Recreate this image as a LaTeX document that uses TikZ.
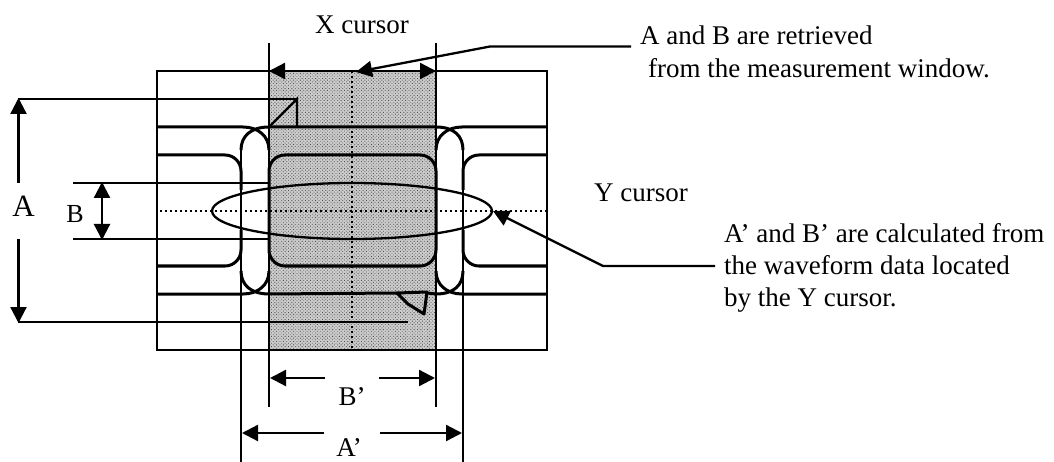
\documentclass[tikz,border=0pt]{standalone}
\usepackage{fontspec}
\setmainfont{Liberation Serif}
\usetikzlibrary{arrows.meta,patterns.meta}
\tikzset{
  thin line/.style={line width=2.3pt,black},
  thick line/.style={line width=3pt,black},
  dotted line/.style={line width=2pt,black,dash pattern=on 2pt off 3pt},
  dimone/.style={line width=2.3pt,black,-{Triangle[length=16pt,width=16pt]}},
  dimboth/.style={line width=2.3pt,black,{Triangle[length=16pt,width=16pt]}-{Triangle[length=16pt,width=16pt]}},
  lbl/.style={anchor=base west,inner sep=0pt,font=\fontsize{27}{30}\selectfont},
  lblc/.style={anchor=base,inner sep=0pt,font=\fontsize{27}{30}\selectfont},
}
\begin{document}
\begin{tikzpicture}[x=1pt,y=-1pt]
\useasboundingbox (0,0) rectangle (1054,462);
% shaded X cursor band
\fill[black!20] (269,71) rectangle (436,350);
\fill[pattern={Dots[distance=2.4pt,radius=0.6pt,angle=45]},pattern color=black!70] (269,71) rectangle (436,350);
% frame
\draw[thin line] (157,71) rectangle (547,350);
% dotted axes
\draw[dotted line] (160,211) -- (547,211);
\draw[dotted line] (352,71) -- (352,350);
% cursors
\draw[thin line] (269,43) -- (269,407);
\draw[thin line] (436,43) -- (436,407);
\draw[thin line] (241,150) -- (241,462);
\draw[thin line] (463,150) -- (463,462);
% waveform, top
\draw[thick line] (157,127) -- (243,127) .. controls (258,127) and (269,136) .. (269,150);
\draw[thick line] (241,150) .. controls (241,136) and (251,127) .. (269,127) -- (297,127);
\draw[thin line,line join=miter] (269,127) -- (297,99) -- (297,127);
\draw[thick line] (297,127) -- (436,127) .. controls (454,127) and (463,136) .. (463,150);
\draw[thick line] (436,150) .. controls (436,136) and (447,127) .. (462,127) -- (547,127);
\draw[thick line,rounded corners=16pt] (157,155) -- (241,155) -- (241,190);
\draw[thick line,rounded corners=16pt] (547,155) -- (463,155) -- (463,190);
\draw[thick line,rounded corners=16pt] (157,266) -- (241,266) -- (241,230);
\draw[thick line,rounded corners=16pt] (547,266) -- (463,266) -- (463,230);
\draw[thick line,rounded corners=16pt] (269,155) rectangle (436,266);
% waveform, bottom
\draw[thick line] (157,294) -- (243,294) .. controls (258,294) and (269,285) .. (269,271);
\draw[thick line] (241,271) .. controls (241,285) and (251,294) .. (269,294) -- (397,293);
\draw[thick line,line join=round] (397,293) -- (427,292) -- (424,314) -- (408,304) -- cycle;
\draw[thick line] (427,293) -- (436,294) .. controls (454,294) and (463,285) .. (463,271);
\draw[thick line] (436,271) .. controls (436,285) and (447,294) .. (462,294) -- (547,294);
% A and B reference lines
\coordinate (atop) at (18.5,98);
\coordinate (abot) at (18.5,323);
\coordinate (agap1) at (18.5,183);
\coordinate (agap2) at (18.5,239);
\coordinate (btop) at (102,182);
\coordinate (bbot) at (102,240);
\draw[thin line] (17.5,99) -- (297,99);
\draw[thin line] (17.5,322) -- (408,322);
\draw[thin line] (73,183) -- (269,183);
\draw[thin line] (73,239) -- (269,239);
\draw[dimone] (agap1) -- (atop);
\draw[dimone] (agap2) -- (abot);
\draw[dimboth] (btop) -- (bbot);
% Y cursor ellipse
\draw[thin line] (352,211) ellipse [x radius=140,y radius=28];
% X cursor arrows
\coordinate (xl) at (269,71);
\coordinate (xr) at (436,71);
\draw[dimboth] (xl) -- (xr);
% B' and A' dimensions
\coordinate (bl) at (270,378);
\coordinate (bli) at (325,378);
\coordinate (bri) at (379,378);
\coordinate (br) at (435,378);
\coordinate (al) at (242,433);
\coordinate (ali) at (324,433);
\coordinate (ari) at (380,433);
\coordinate (ar) at (462,433);
\draw[dimone] (bli) -- (bl);
\draw[dimone] (bri) -- (br);
\draw[dimone] (ali) -- (al);
\draw[dimone] (ari) -- (ar);
% leaders
\coordinate (lead1a) at (631,46.5);
\coordinate (lead1b) at (490,46.5);
\coordinate (lead1c) at (356,72);
\coordinate (lead2a) at (715,266);
\coordinate (lead2b) at (603,266);
\coordinate (lead2c) at (493,211);
\draw[dimone] (lead1a) -- (lead1b) -- (lead1c);
\draw[dimone] (lead2a) -- (lead2b) -- (lead2c);
% labels
\node[lbl] (xcursor) at (315,34) {X cursor};
\node[lbl] (ycursor) at (594,202) {Y cursor};
\node[lbl] (ab1) at (640,45) {A and B are retrieved};
\node[lbl] (ab2) at (648,78) {from the measurement window.};
\node[lbl] (c1) at (724,243) {A’ and B’ are calculated from};
\node[lbl] (c2) at (724,274) {the waveform data located};
\node[lbl] (c3) at (724,306) {by the Y cursor.};
\node[lblc,font=\fontsize{31}{31}\selectfont] (labA) at (23.5,217) {A};
\node[lblc,font=\fontsize{26}{30}\selectfont] (labB) at (75,222.5) {B};
\node[lblc] (labBp) at (352,405) {B’};
\node[lblc] (labAp) at (349,456) {A’};
\end{tikzpicture}
\end{document}
